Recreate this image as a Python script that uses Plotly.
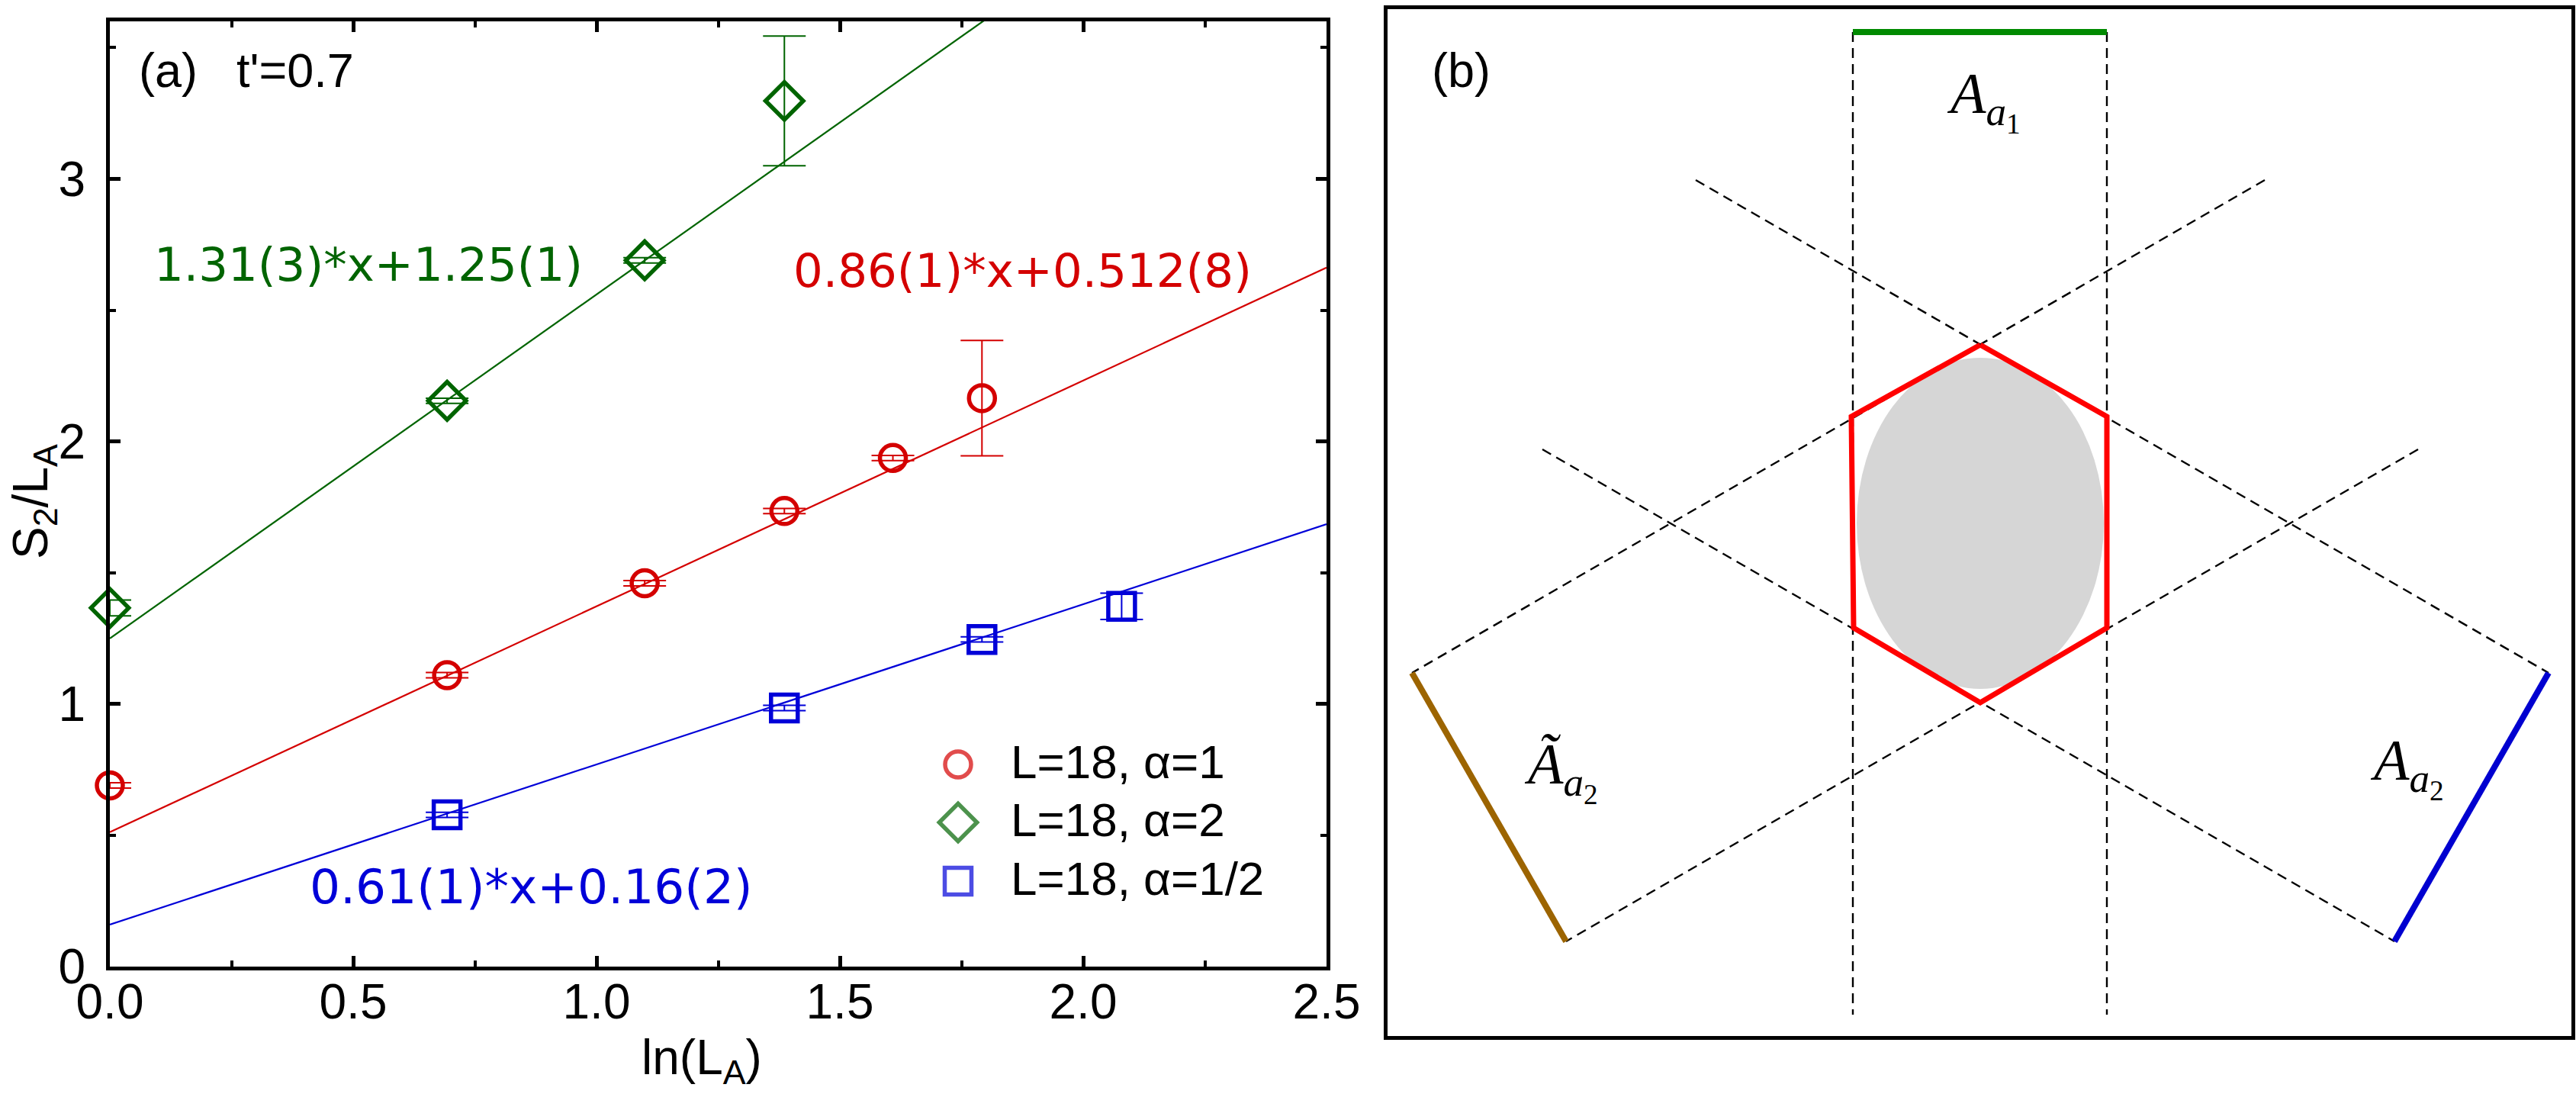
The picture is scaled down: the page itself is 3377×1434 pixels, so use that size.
import plotly.graph_objects as go

W, H = 3377, 1434

# ---------------- data: panel (a) ----------------
LN_LA_A1 = [0.0, 0.693, 1.099, 1.386, 1.609, 1.792]
S2_A1 = [0.69, 1.11, 1.46, 1.735, 1.937, 2.165]
ERR_A1 = [0.01, 0.01, 0.01, 0.01, 0.01, 0.22]

LN_LA_A2 = [0.0, 0.693, 1.099, 1.386]
S2_A2 = [1.366, 2.155, 2.69, 3.297]
ERR_A2 = [0.03, 0.01, 0.01, 0.247]

LN_LA_AH = [0.693, 1.386, 1.792, 2.079]
S2_AH = [0.578, 0.985, 1.246, 1.372]
ERR_AH = [0.01, 0.01, 0.01, 0.05]

FIT_SLOPES = [0.86, 1.31, 0.61]
FIT_INTERCEPTS = [0.512, 1.25, 0.16]
FIT_LABELS = ["0.86(1)*x+0.512(8)", "1.31(3)*x+1.25(1)", "0.61(1)*x+0.16(2)"]
SERIES_NAMES = ["L=18, α=1", "L=18, α=2", "L=18, α=1/2"]
X_RANGE = [0.0, 2.5]
Y_RANGE = [0.0, 3.6]
X_TICKS = [0.0, 0.5, 1.0, 1.5, 2.0, 2.5]
X_TICK_LABELS = ["0.0", "0.5", "1.0", "1.5", "2.0", "2.5"]
Y_TICKS = [0, 1, 2, 3]
Y_TICK_LABELS = ["0", "1", "2", "3"]

# ---------------- data: panel (b) schematic (local units) ----------------
HEX_X = [777, 943, 943, 777, 611, 608, 777]
HEX_Y = [440, 534, 811, 909, 811, 534, 440]
ELLIPSE_C = [777, 674]
ELLIPSE_R = [162, 217]
VDASH_X = [610, 943]
VDASH_Y = [30, 1318]
DIAG_X = [[404, 1522], [1150, 32], [203, 1320], [1351, 234]]
DIAG_Y = [[224, 870], [224, 870], [577, 1222], [577, 1222]]
BAR_A1_X = [610, 943]
BAR_A1_Y = [30, 30]
BAR_TA2_X = [32, 234]
BAR_TA2_Y = [870, 1222]
BAR_A2_X = [1522, 1320]
BAR_A2_Y = [870, 1222]
B_LABELS = ["<i>A</i><sub><i>a</i><sub>1</sub></sub>",
            "<i>Ã</i><sub><i>a</i><sub>2</sub></sub>",
            "<i>A</i><sub><i>a</i><sub>2</sub></sub>"]
B_LABEL_X = [781, 228, 1336]
B_LABEL_Y = [119, 998, 993]

# ---------------- styles ----------------
RED, GREEN, BLUE = "#d40000", "#006400", "#0000d8"
SANS = "Liberation Sans, Arial, Helvetica, sans-serif"
WIDE = "DejaVu Sans, sans-serif"
SERIF = "Liberation Serif, Times New Roman, serif"

A_L, A_R, A_T, A_B = 144, 1739, 28, 1267
B_L, B_R, B_T, B_B = 1819, 3371, 12, 1358


def dx(px):
    return X_RANGE[0] + (px - A_L) / (A_R - A_L) * (X_RANGE[1] - X_RANGE[0])


def dy(py):
    return Y_RANGE[0] + (A_B - py) / (A_B - A_T) * (Y_RANGE[1] - Y_RANGE[0])


fig = go.Figure()

colors = [RED, GREEN, BLUE]
symbols = ["circle-open", "diamond-open", "square-open"]
sizes = [34, 38, 35]

# fit lines (clipped to axes)
for s, b, c in zip(FIT_SLOPES, FIT_INTERCEPTS, colors):
    fig.add_trace(go.Scatter(x=X_RANGE, y=[s * X_RANGE[0] + b, s * X_RANGE[1] + b],
                             mode="lines", line=dict(color=c, width=2.2),
                             hoverinfo="skip", xaxis="x", yaxis="y"))

series = [(LN_LA_A1, S2_A1, ERR_A1), (LN_LA_A2, S2_A2, ERR_A2), (LN_LA_AH, S2_AH, ERR_AH)]
for (xs, ys, es), c, sym, sz, nm in zip(series, colors, symbols, sizes, SERIES_NAMES):
    fig.add_trace(go.Scatter(
        x=xs, y=ys, mode="markers", name=nm,
        marker=dict(symbol=sym, size=sz, color=c, line=dict(width=5.5, color=c)),
        error_y=dict(type="data", array=es, color=c, thickness=2, width=28),
        cliponaxis=False, xaxis="x", yaxis="y"))

# custom legend keys
LEG_KEY_PX = 1256
LEG_TEXT_PX = 1323
LEG_ROWS_PY = [1002, 1078, 1155]
fig.add_trace(go.Scatter(
    x=[dx(LEG_KEY_PX)] * 3, y=[dy(p) for p in LEG_ROWS_PY], mode="markers",
    marker=dict(symbol=symbols, size=sizes, color=colors, line=dict(width=5.5, color=colors)),
    cliponaxis=False, hoverinfo="skip", xaxis="x", yaxis="y"))

# panel (b)
dash = "13px,8px"
for xs, ys in zip(DIAG_X, DIAG_Y):
    fig.add_trace(go.Scatter(x=xs, y=ys, mode="lines", line=dict(color="black", width=2.4, dash=dash),
                             hoverinfo="skip", xaxis="x2", yaxis="y2"))
for vx in VDASH_X:
    fig.add_trace(go.Scatter(x=[vx, vx], y=VDASH_Y, mode="lines", line=dict(color="black", width=2.4, dash=dash),
                             hoverinfo="skip", xaxis="x2", yaxis="y2"))
fig.add_trace(go.Scatter(x=HEX_X, y=HEX_Y, mode="lines", line=dict(color="#ff0000", width=7),
                         hoverinfo="skip", xaxis="x2", yaxis="y2"))
for xs, ys, c in [(BAR_A1_X, BAR_A1_Y, "#008a00"), (BAR_TA2_X, BAR_TA2_Y, "#9c6400"), (BAR_A2_X, BAR_A2_Y, "#0000d0")]:
    fig.add_trace(go.Scatter(x=xs, y=ys, mode="lines", line=dict(color=c, width=8),
                             hoverinfo="skip", xaxis="x2", yaxis="y2"))

fig.add_shape(type="circle", xref="x2", yref="y2",
              x0=ELLIPSE_C[0] - ELLIPSE_R[0], x1=ELLIPSE_C[0] + ELLIPSE_R[0],
              y0=ELLIPSE_C[1] - ELLIPSE_R[1], y1=ELLIPSE_C[1] + ELLIPSE_R[1],
              fillcolor="#d6d6d6", line=dict(width=0), layer="below")

ann = []
FIT_LABEL_PX = [(1038, 354), (200, 347), (404, 1162)]
FIT_LABEL_SIZES = [61, 61, 63]
for (px, py), txt, c, fs in zip(FIT_LABEL_PX, FIT_LABELS, colors, FIT_LABEL_SIZES):
    ann.append(dict(x=px / W, y=1 - py / H, xref="paper", yref="paper", text=txt, showarrow=False,
                    xanchor="left", yanchor="middle", font=dict(family=WIDE, size=fs, color=c)))
for py, txt in zip(LEG_ROWS_PY, SERIES_NAMES):
    ann.append(dict(x=LEG_TEXT_PX / W, y=1 - (py - 4) / H, xref="paper", yref="paper", text=txt,
                    showarrow=False, xanchor="left", yanchor="middle",
                    font=dict(family=SANS, size=62, color="black")))
ann.append(dict(x=180 / W, y=1 - 92 / H, xref="paper", yref="paper", text="(a)", showarrow=False,
                xanchor="left", yanchor="middle", font=dict(family=SANS, size=63, color="black")))
ann.append(dict(x=308 / W, y=1 - 92 / H, xref="paper", yref="paper", text="t'=0.7", showarrow=False,
                xanchor="left", yanchor="middle", font=dict(family=SANS, size=63, color="black")))
ann.append(dict(x=1875 / W, y=1 - 92 / H, xref="paper", yref="paper", text="(b)", showarrow=False,
                xanchor="left", yanchor="middle", font=dict(family=SANS, size=63, color="black")))
ann.append(dict(x=920 / W, y=2 / H, xref="paper", yref="paper", text="ln(L<sub>A</sub>)",
                showarrow=False, xanchor="center", yanchor="bottom",
                font=dict(family=SANS, size=64, color="black")))
ann.append(dict(x=44 / W, y=1 - 658 / H, xref="paper", yref="paper", text="S<sub>2</sub>/L<sub>A</sub>",
                showarrow=False, xanchor="center", yanchor="middle", textangle=-90,
                font=dict(family=SANS, size=64, color="black")))
for txt, lx, ly in zip(B_LABELS, B_LABEL_X, B_LABEL_Y):
    ann.append(dict(x=lx, y=ly, xref="x2", yref="y2", text=txt, showarrow=False,
                    xanchor="center", yanchor="middle", font=dict(family=SERIF, size=76, color="black")))

axis_common = dict(showline=True, linewidth=5, linecolor="black", mirror="allticks",
                   ticks="inside", ticklen=14, tickwidth=5, tickcolor="black",
                   showgrid=False, zeroline=False, automargin=False,
                   tickfont=dict(family=SANS, size=64, color="black"))

fig.update_layout(
    width=W, height=H, margin=dict(l=0, r=0, t=0, b=0, autoexpand=False),
    paper_bgcolor="white", plot_bgcolor="white", showlegend=False,
    xaxis=dict(domain=[A_L / W, A_R / W], range=X_RANGE, tickmode="linear",
               tick0=X_TICKS[0], dtick=X_TICKS[1] - X_TICKS[0], tickformat=".1f",
               minor=dict(dtick=(X_TICKS[1] - X_TICKS[0]) / 2, ticks="inside", ticklen=8,
                          tickwidth=4, tickcolor="black"),
               ticklabelstandoff=-14, anchor="y", **axis_common),
    yaxis=dict(domain=[1 - A_B / H, 1 - A_T / H], range=Y_RANGE, tickmode="linear",
               tick0=Y_TICKS[0], dtick=Y_TICKS[1] - Y_TICKS[0], tickformat="d",
               minor=dict(dtick=(Y_TICKS[1] - Y_TICKS[0]) / 2, ticks="inside", ticklen=8,
                          tickwidth=4, tickcolor="black"),
               ticklabelstandoff=14, anchor="x", **axis_common),
    xaxis2=dict(domain=[B_L / W, B_R / W], range=[0, B_R - B_L], anchor="y2", automargin=False,
                showline=True, linewidth=5, linecolor="black", mirror=True, ticks="",
                showticklabels=False, showgrid=False, zeroline=False),
    yaxis2=dict(domain=[1 - B_B / H, 1 - B_T / H], range=[B_B - B_T, 0], anchor="x2", automargin=False,
                showline=True, linewidth=5, linecolor="black", mirror=True, ticks="",
                showticklabels=False, showgrid=False, zeroline=False),
    annotations=ann,
)

fig.write_html("out.html")
